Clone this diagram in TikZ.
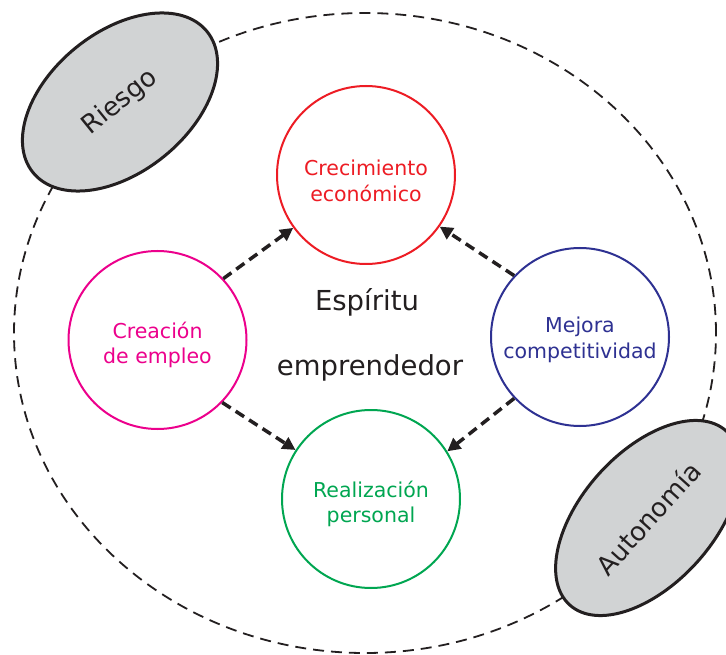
\documentclass[tikz,border=0pt]{standalone}
\usepackage{fontspec}
\setmainfont{DejaVu Sans}
\usetikzlibrary{shapes.geometric,arrows.meta}
\definecolor{cred}{RGB}{237,28,36}
\definecolor{cpink}{RGB}{236,0,140}
\definecolor{cblue}{RGB}{46,49,146}
\definecolor{cgreen}{RGB}{0,166,81}
\definecolor{cgrey}{RGB}{209,211,212}
\definecolor{cdark}{RGB}{35,31,32}
\tikzset{
  outerring/.style={ellipse, draw=cdark, line width=1.8pt, dash pattern=on 11pt off 7pt, minimum width=702pt, minimum height=640pt, inner sep=0pt},
  bubble/.style={circle, line width=2pt, minimum size=178pt, inner sep=0pt},
  bubbletext/.style={align=center, inner sep=0pt, font=\fontsize{20.5}{25.5}\selectfont},
  blob/.style={ellipse, draw=cdark, line width=3pt, fill=cgrey, inner sep=0pt, text=cdark, font=\fontsize{26}{30}\selectfont},
  flow/.style={draw=cdark, line width=3.5pt, dash pattern=on 10pt off 6pt, -{Triangle[length=13pt,width=13pt]}},
  centretext/.style={text=cdark, font=\fontsize{27.5}{32}\selectfont}
}
\begin{document}
\begin{tikzpicture}[x=1pt,y=-1pt]
\useasboundingbox (0,0) rectangle (726,655);
\fill[white] (0,0) rectangle (726,655);
\node[outerring] (ring) at (365,333) {};
\node[blob, minimum width=224pt, minimum height=140pt, rotate=39] (risk) at (120,102) {Riesgo};
\node[blob, minimum width=234pt, minimum height=132pt, rotate=48] (auto) at (648,518) {Autonomía};
\node[bubble, draw=cred] (grow) at (366,175) {};
\node[bubble, draw=cpink] (jobs) at (157.5,340) {};
\node[bubble, draw=cblue] (comp) at (580,337) {};
\node[bubble, draw=cgreen] (self) at (371,499) {};
\node[bubbletext, text=cred] (growt) at (366,181) {Crecimiento\\económico};
\node[bubbletext, text=cpink] (jobst) at (157.5,345) {Creación\\de empleo};
\node[bubbletext, text=cblue] (compt) at (580,340) {Mejora\\competitividad};
\node[bubbletext, text=cgreen] (selft) at (371,504) {Realización\\personal};
\node[centretext] (esp) at (367,302) {Espíritu};
\node[centretext] (emp) at (370,368) {emprendedor};
\draw[flow] (jobs.43) -- (grow.216);
\draw[flow] (comp.137) -- (grow.325);
\draw[flow] (jobs.316) -- (self.147);
\draw[flow] (comp.223) -- (self.32);
\end{tikzpicture}
\end{document}
